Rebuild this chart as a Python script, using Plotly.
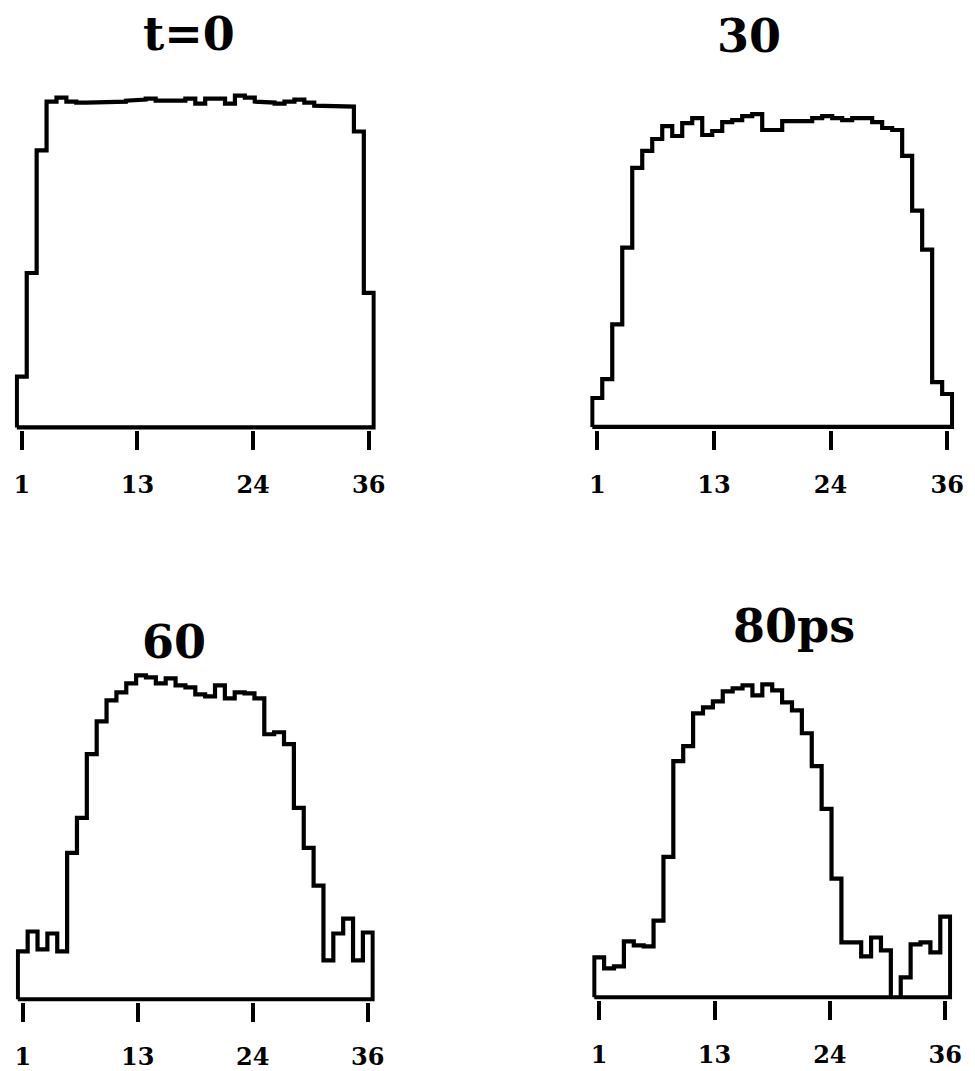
import numpy as np
import plotly.graph_objects as go

# ---- data (bin heights, arbitrary units, 36 bins) ----
bins = list(range(1, 37))
t0 = [51, 155, 278, 327, 331, 327, 326, 326, 326, 326, 327, 328, 329, 330, 328, 327, 328, 330,
      325, 330, 330, 325, 333, 331, 327, 326, 325, 327, 329, 326, 323, 323, 323, 322, 297, 135]
t30 = [29, 48, 103, 180, 260, 277, 289, 302, 292, 305, 310, 293, 297, 306, 308, 312, 314, 298,
       298, 307, 306, 307, 310, 312, 310, 308, 310, 310, 306, 300, 298, 272, 217, 178, 45, 33]
t60 = [48, 68, 50, 66, 48, 147, 182, 246, 279, 300, 308, 317, 325, 323, 317, 322, 315, 313,
       306, 304, 315, 302, 308, 307, 302, 266, 268, 256, 192, 152, 114, 39, 66, 81, 39, 67]
t80 = [40, 29, 31, 56, 52, 51, 77, 141, 237, 252, 285, 291, 297, 307, 310, 313, 303, 314,
       308, 296, 288, 265, 232, 189, 119, 55, 55, 41, 60, 47, 0, 20, 53, 55, 45, 81]
titles = ["t=0", "30", "60", "80ps"]
tick_vals = [1, 1 + 35 / 3, 1 + 70 / 3, 36]
tick_text = ["1", "13", "24", "36"]

series = [t0, t30, t60, t80]

W, H = 975, 1071
# panel geometry in pixels: left bin edge, right bin edge, baseline, title x, title y
panels = [
    dict(xl=16, xr=377, base=429, tx=190, ty=34),
    dict(xl=598, xr=962, base=428.5, tx=757, ty=36),
    dict(xl=17, xr=376, base=1003, tx=175, ty=644),
    dict(xl=600, xr=960, base=1001, tx=802, ty=628),
]

XPAD = 0.2
YLO, YHI = -3, 345

fig = go.Figure()
for k, (vals, p, title) in enumerate(zip(series, panels, titles)):
    idx = "" if k == 0 else str(k + 1)
    b = np.array(bins, dtype=float)
    v = np.array(vals, dtype=float)
    xs = [b[0] - 0.5]
    ys = [0.0]
    for bi, vi in zip(b, v):
        xs += [bi - 0.5, bi + 0.5]
        ys += [vi, vi]
    xs += [b[-1] + 0.5, b[0] - 0.5]
    ys += [0.0, 0.0]
    fig.add_trace(go.Scatter(x=xs, y=ys, mode="lines",
                             line=dict(color="black", width=4.2),
                             xaxis="x" + idx, yaxis="y" + idx,
                             showlegend=False, hoverinfo="skip"))
    ppu = (p["xr"] - p["xl"]) / 36.0
    dl = (p["xl"] - XPAD * ppu) / W
    dr = (p["xr"] + XPAD * ppu) / W
    db = 1 - (p["base"] - YLO) / H
    dt = 1 - (p["base"] - YHI) / H
    fig.layout["xaxis" + idx] = dict(
        domain=[dl, dr], range=[0.5 - XPAD, 36.5 + XPAD], anchor="y" + idx,
        showgrid=False, zeroline=False, showline=False,
        ticks="outside", ticklen=19, tickwidth=4, tickcolor="black",
        tickvals=tick_vals, ticktext=tick_text, ticklabelstandoff=14,
        tickfont=dict(family="DejaVu Serif", size=24, color="black", weight="bold"),
        fixedrange=True)
    fig.layout["yaxis" + idx] = dict(
        domain=[db, dt], range=[YLO, YHI], anchor="x" + idx, visible=False,
        fixedrange=True)
    fig.add_annotation(text=title, x=p["tx"] / W, y=1 - p["ty"] / H,
                       xref="paper", yref="paper", xanchor="center", yanchor="middle",
                       showarrow=False,
                       font=dict(family="DejaVu Serif", size=46, color="black", weight="bold"))

fig.update_layout(width=W, height=H, margin=dict(l=0, r=0, t=0, b=0),
                  paper_bgcolor="white", plot_bgcolor="white")
fig.write_html("out.html")
